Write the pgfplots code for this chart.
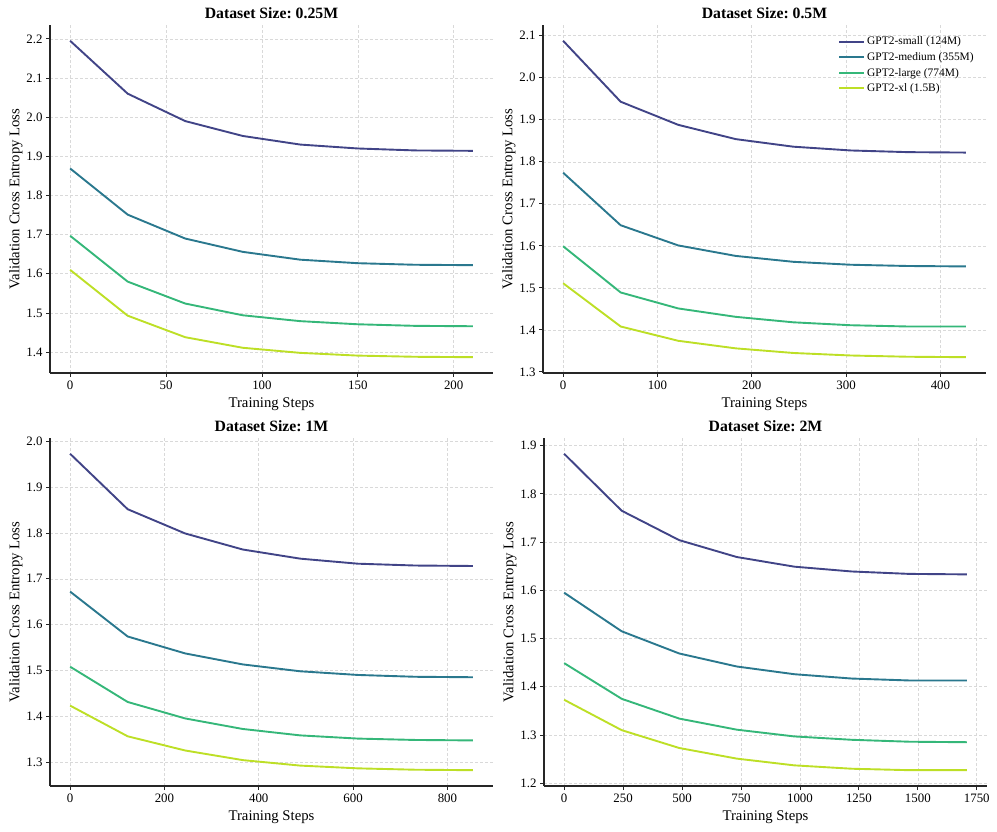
\documentclass[border=0pt]{standalone}
\usepackage{pgfplots}
\pgfplotsset{compat=1.18}
\usepackage{fontspec}
\setmainfont{Liberation Serif}
\frenchspacing

\definecolor{cSmall}{HTML}{414487}
\definecolor{cMed}{HTML}{2A788E}
\definecolor{cLarge}{HTML}{35B779}
\definecolor{cXl}{HTML}{BDDF26}
\definecolor{spine}{HTML}{262626}

\pgfplotsset{
  panel/.style={
    width=443bp, height=348bp, scale only axis,
    axis lines*=left,
    axis line style={spine, line width=1.2bp},
    enlargelimits=0.05,
    grid=major,
    grid style={dash pattern=on 3bp off 2bp, gray!30, line width=0.6bp},
    tick align=outside,
    major tick length=4bp,
    tick style={spine, line width=0.8bp},
    ticklabel style={font=\fontsize{12.9}{14}\selectfont},
    /pgf/number format/assume math mode=true,
    /pgf/number format/1000 sep={},
    yticklabel style={/pgf/number format/fixed, /pgf/number format/precision=1, /pgf/number format/fixed zerofill},
    xlabel={Training Steps},
    ylabel={Validation Cross Entropy Loss},
    label style={font=\fontsize{14.8}{16}\selectfont},
    xlabel style={yshift=-2bp},
    ylabel style={yshift=-3bp},
    title style={font=\fontsize{15.8}{17}\selectfont\bfseries, yshift=-3bp},
    every axis plot/.append style={line width=1.9bp, mark=none},
  },
}

\begin{document}
\begin{tikzpicture}
\useasboundingbox (0,0) rectangle (997bp,832bp);

% 0.25M
\begin{axis}[panel, at={(50bp,459bp)}, anchor=south west,
  title={Dataset Size: 0.25M},
  xtick={0,50,...,200}, ytick={1.4,1.5,...,2.25}]
\addplot[cSmall] coordinates {(0,2.195)(30,2.060)(60,1.990)(90,1.952)(120,1.930)(150,1.920)(180,1.915)(210,1.914)};
\addplot[cMed] coordinates {(0,1.869)(30,1.751)(60,1.690)(90,1.656)(120,1.636)(150,1.627)(180,1.623)(210,1.622)};
\addplot[cLarge] coordinates {(0,1.697)(30,1.580)(60,1.524)(90,1.494)(120,1.479)(150,1.471)(180,1.467)(210,1.466)};
\addplot[cXl] coordinates {(0,1.610)(30,1.493)(60,1.438)(90,1.411)(120,1.398)(150,1.391)(180,1.388)(210,1.387)};
\end{axis}

% 0.5M
\begin{axis}[panel, at={(543bp,459bp)}, anchor=south west,
  title={Dataset Size: 0.5M},
  xtick={0,100,...,400}, ytick={1.3,1.4,...,2.15},
  legend style={draw=none, fill=none,
    font=\fontsize{11.5}{13}\selectfont, row sep=2.2bp,
    at={(0.984,0.978)}, anchor=north east},
  legend cell align=left,
  legend image code/.code={\draw[#1, line width=1.9bp] (0bp,0bp) -- (25bp,0bp);}]
\addplot[cSmall] coordinates {(0,2.088)(61,1.943)(122,1.888)(183,1.854)(244,1.836)(305,1.827)(366,1.823)(427,1.822)};
\addlegendentry{GPT2-small (124M)}
\addplot[cMed] coordinates {(0,1.774)(61,1.649)(122,1.601)(183,1.576)(244,1.562)(305,1.555)(366,1.552)(427,1.551)};
\addlegendentry{GPT2-medium (355M)}
\addplot[cLarge] coordinates {(0,1.599)(61,1.489)(122,1.451)(183,1.431)(244,1.418)(305,1.411)(366,1.408)(427,1.408)};
\addlegendentry{GPT2-large (774M)}
\addplot[cXl] coordinates {(0,1.511)(61,1.408)(122,1.374)(183,1.356)(244,1.345)(305,1.339)(366,1.336)(427,1.335)};
\addlegendentry{GPT2-xl (1.5B)}
\end{axis}

% 1M
\begin{axis}[panel, at={(50bp,46bp)}, anchor=south west,
  title={Dataset Size: 1M},
  xtick={0,200,...,800}, ytick={1.3,1.4,...,2.05}]
\addplot[cSmall] coordinates {(0,1.973)(122,1.852)(244,1.799)(366,1.764)(488,1.744)(610,1.733)(732,1.729)(854,1.728)};
\addplot[cMed] coordinates {(0,1.672)(122,1.574)(244,1.537)(366,1.513)(488,1.498)(610,1.490)(732,1.486)(854,1.485)};
\addplot[cLarge] coordinates {(0,1.508)(122,1.431)(244,1.395)(366,1.372)(488,1.358)(610,1.351)(732,1.348)(854,1.347)};
\addplot[cXl] coordinates {(0,1.423)(122,1.356)(244,1.325)(366,1.304)(488,1.292)(610,1.286)(732,1.283)(854,1.282)};
\end{axis}

% 2M
\begin{axis}[panel, at={(544bp,46bp)}, anchor=south west,
  title={Dataset Size: 2M},
  xtick={0,250,...,1750}, ytick={1.2,1.3,...,1.95}]
\addplot[cSmall] coordinates {(0,1.883)(244,1.765)(488,1.704)(732,1.669)(976,1.649)(1220,1.639)(1464,1.634)(1708,1.633)};
\addplot[cMed] coordinates {(0,1.595)(244,1.515)(488,1.469)(732,1.442)(976,1.426)(1220,1.417)(1464,1.413)(1708,1.413)};
\addplot[cLarge] coordinates {(0,1.449)(244,1.375)(488,1.334)(732,1.311)(976,1.297)(1220,1.290)(1464,1.286)(1708,1.285)};
\addplot[cXl] coordinates {(0,1.373)(244,1.310)(488,1.273)(732,1.251)(976,1.237)(1220,1.230)(1464,1.227)(1708,1.227)};
\end{axis}
\end{tikzpicture}
\end{document}
